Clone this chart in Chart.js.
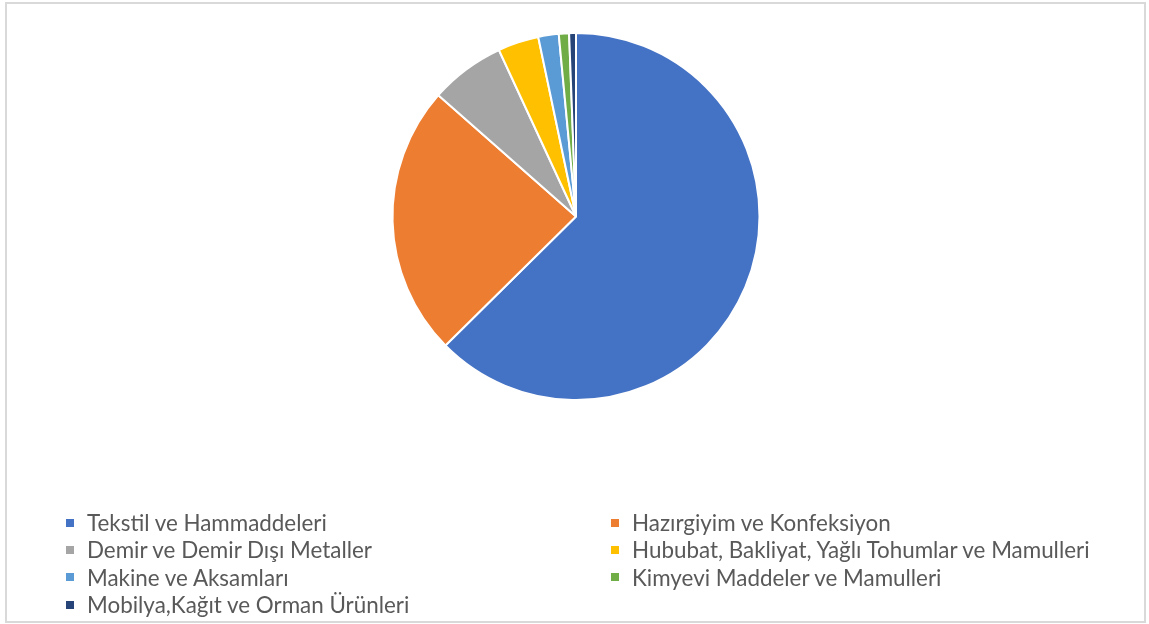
<!DOCTYPE html>
<html>
<head>
<meta charset="utf-8">
<script src="https://cdn.jsdelivr.net/npm/chart.js@4.4.1/dist/chart.umd.min.js"></script>
<style>
    html, body { margin: 0; padding: 0; background: #fff; }
    body { width: 1149px; height: 624px; position: relative; overflow: hidden; }
    #frame {
        position: absolute; left: 5px; top: 2px; width: 1137px; height: 617px;
        border: 2px solid #d9d9d9;
    }
    #wrap { position: absolute; left: 0; top: 0; width: 1149px; height: 624px; }
    #legend {
        position: absolute; left: 66px; top: 509px; width: 1060px;
        display: grid; grid-template-columns: 545px 500px; grid-auto-rows: 27.3px;
        font-family: Lato, "Open Sans", sans-serif; font-size: 22.4px; color: #595959;
    }
    .item { display: flex; align-items: center; white-space: nowrap; }
    .box { width: 8px; height: 8px; margin-right: 13px; flex: none; }
</style>
</head>
<body>
<div id="frame"></div>
<div id="wrap"><canvas id="pieChart" width="1149" height="624"></canvas></div>
<div id="legend"></div>
<script>
// Sector shares (%)
const categories = [
    'Tekstil ve Hammaddeleri',
    'Hazırgiyim ve Konfeksiyon',
    'Demir ve Demir Dışı Metaller',
    'Hububat, Bakliyat, Yağlı Tohumlar ve Mamulleri',
    'Makine ve Aksamları',
    'Kimyevi Maddeler ve Mamulleri',
    'Mobilya,Kağıt ve Orman Ürünleri'
];
const shares = [62.6, 23.9, 6.6, 3.6, 1.8, 0.9, 0.6];
const colors = ['#4472C4', '#ED7D31', '#A5A5A5', '#FFC000', '#5B9BD5', '#70AD47', '#264478'];

const ctx = document.getElementById('pieChart').getContext('2d');
const chart = new Chart(ctx, {
    type: 'pie',
    data: {
        labels: categories,
        datasets: [{
            data: shares,
            backgroundColor: colors,
            borderColor: '#ffffff',
            borderWidth: 2,
            hoverOffset: 0
        }]
    },
    options: {
        responsive: false,
        animation: false,
        layout: { padding: { top: 32, bottom: 223, left: 3, right: 0 } },
        plugins: {
            legend: { display: false },
            tooltip: { enabled: false }
        }
    }
});

// Legend in two columns, like the original
const legend = document.getElementById('legend');
chart.data.labels.forEach((label, i) => {
    const item = document.createElement('div');
    item.className = 'item';
    const box = document.createElement('span');
    box.className = 'box';
    box.style.background = chart.data.datasets[0].backgroundColor[i];
    item.appendChild(box);
    item.appendChild(document.createTextNode(label));
    legend.appendChild(item);
});
</script>
</body>
</html>
